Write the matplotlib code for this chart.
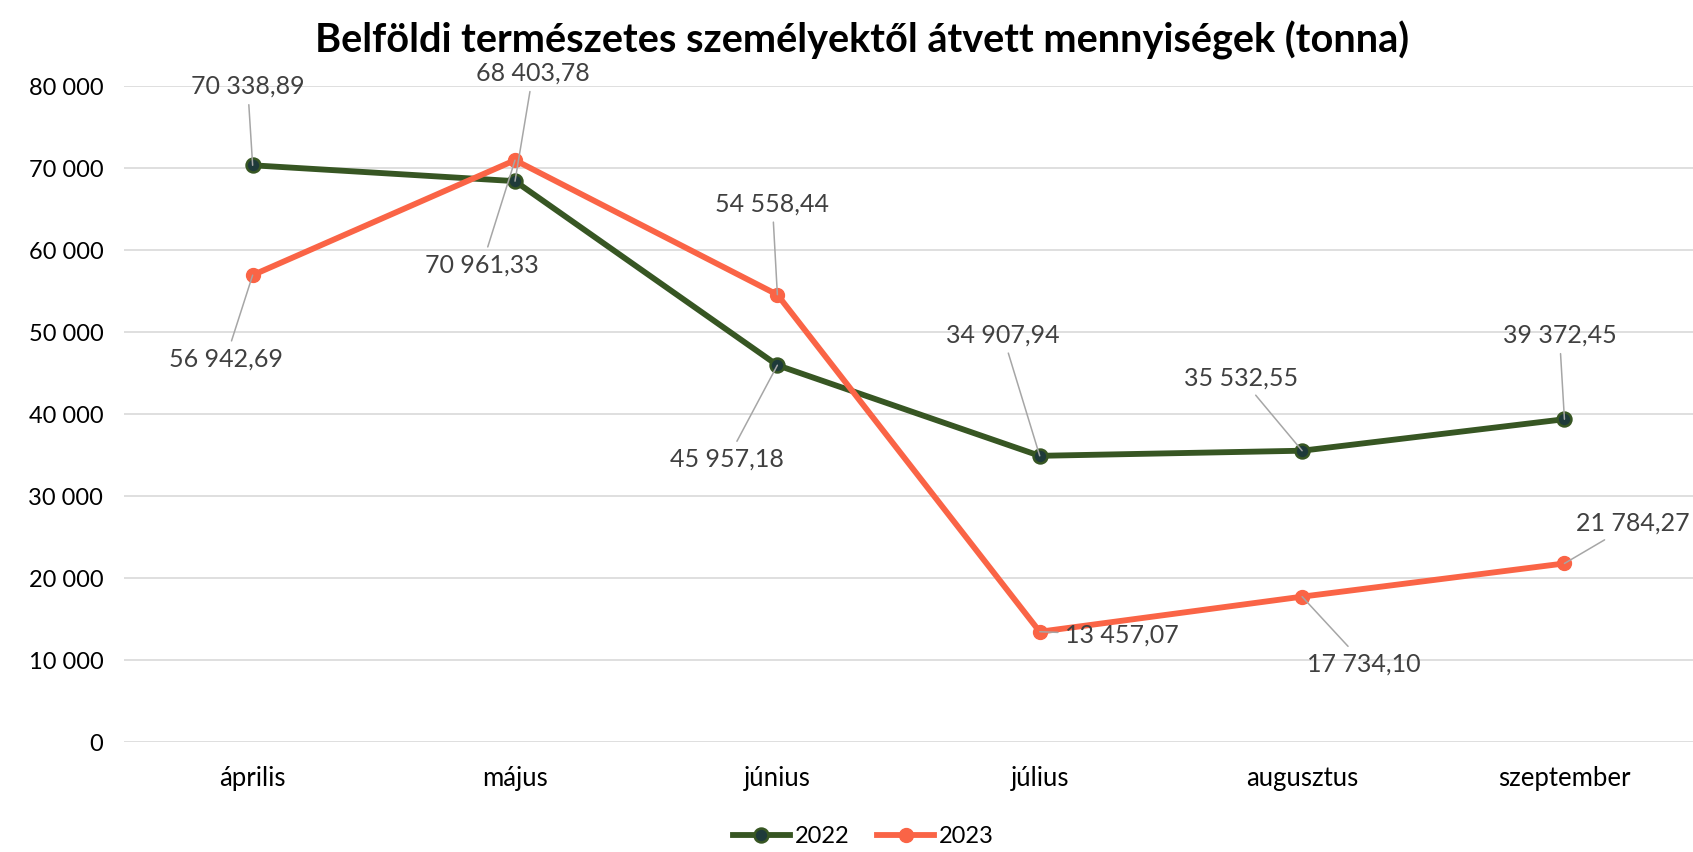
import matplotlib.pyplot as plt

plt.rcParams['font.family'] = ['Lato', 'DejaVu Sans']

months = ['április', 'május', 'június', 'július', 'augusztus', 'szeptember']
v2022 = [70338.89, 68403.78, 45957.18, 34907.94, 35532.55, 39372.45]
v2023 = [56942.69, 70961.33, 54558.44, 13457.07, 17734.10, 21784.27]
yticks = [0, 10000, 20000, 30000, 40000, 50000, 60000, 70000, 80000]

# label offsets in pixels (dpi 100 -> px * 0.72 points)
off2022 = [(-5, 79), (18, 108), (-50, -94), (-37, 121), (-61, 73), (-5, 84)]
off2023 = [(-27, -84), (-33, -105), (-5, 91), (82, -3), (62, -67), (68, 40)]


def fmt(v):
    s = '{:,.2f}'.format(v)
    return s.replace(',', ' ').replace('.', ',')


def fmt_tick(v):
    return '{:,.0f}'.format(v).replace(',', ' ')


fig = plt.figure(figsize=(16.93, 8.52), dpi=100)
ax = fig.add_axes([0.0733, 0.129, 0.9267, 0.77])

x = list(range(len(months)))
c22 = '#375623'
c23 = '#FA6446'
ax.plot(x, v2022, color=c22, lw=4.2, marker='o', ms=10, mfc='#1E3A3A',
        mec=c22, mew=1.8, label='2022', zorder=3)
ax.plot(x, v2023, color=c23, lw=4.2, marker='o', ms=10, mfc=c23,
        mec=c23, label='2023', zorder=3)

for vals, offs in ((v2022, off2022), (v2023, off2023)):
    for i, v in enumerate(vals):
        dx, dy = offs[i]
        ax.annotate(fmt(v), xy=(i, v), xytext=(dx * 0.72, dy * 0.72),
                    textcoords='offset points', ha='center', va='center',
                    fontsize=18, color='#404040',
                    arrowprops=dict(arrowstyle='-', color='#A6A6A6', lw=1.1,
                                    shrinkA=3, shrinkB=0),
                    zorder=4)

ax.set_xlim(-0.49, 5.49)
ax.set_ylim(0, 80000)
ax.set_yticks(yticks)
ax.set_yticklabels([fmt_tick(t) for t in yticks])
ax.set_xticks(x)
ax.set_xticklabels(months)
ax.tick_params(axis='y', length=0, pad=15, labelsize=17)
ax.tick_params(axis='x', length=0, pad=17, labelsize=18.5)
ax.grid(axis='y', color='#D9D9D9', lw=1.2)
ax.set_axisbelow(True)
for sp in ax.spines.values():
    sp.set_visible(False)

fig.suptitle('Belföldi természetes személyektől átvett mennyiségek (tonna)',
             fontsize=28.5, fontweight='bold', x=0.509, y=0.975)
fig.legend(loc='center', bbox_to_anchor=(0.51, 0.018), ncol=2, frameon=False,
           fontsize=17, handlelength=2.4, columnspacing=1.2, handletextpad=0.2)

fig.savefig('out.png', dpi=100)
